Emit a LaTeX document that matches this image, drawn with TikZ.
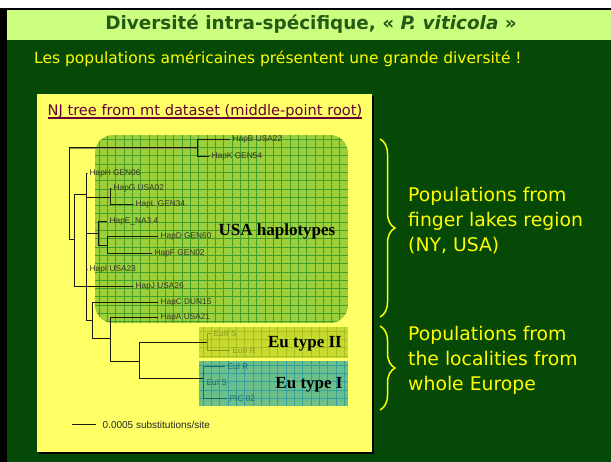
\documentclass[tikz,border=0pt]{standalone}
\usepackage{fontspec}
\setmainfont{Liberation Sans}
\newfontfamily\comic{DejaVu Sans}
\newfontfamily\serifb{Liberation Serif}
\usetikzlibrary{decorations.pathreplacing}
\definecolor{bgdark}{HTML}{064806}
\definecolor{titlebg}{HTML}{CCFF80}
\definecolor{titletxt}{HTML}{245A16}
\definecolor{panel}{HTML}{FFFF66}
\definecolor{maroon}{HTML}{660033}
\definecolor{usag}{HTML}{9CCF3A}
\definecolor{usagrid}{HTML}{3F9F2C}
\definecolor{eutwo}{HTML}{C8DA30}
\definecolor{eutwogrid}{HTML}{A8C020}
\definecolor{euone}{HTML}{6CBF8A}
\definecolor{euonegrid}{HTML}{33A0A0}
\definecolor{yel}{HTML}{FFFF00}
\definecolor{treel}{HTML}{1A1A08}
\definecolor{treesh}{HTML}{8C8C50}
\definecolor{labc}{HTML}{333322}
\definecolor{eutwol}{HTML}{8A9A20}
\definecolor{euonel}{HTML}{1A6A6A}
\tikzset{
  lab/.style={anchor=west, inner sep=2.5pt, font=\fontsize{8.3}{10}\selectfont, text=labc},
  labtwo/.style={lab, text=eutwol},
  labone/.style={lab, text=euonel},
  edge/.style={treel, line width=0.9pt},
  shadowedge/.style={treesh, line width=0.9pt},
  bigl/.style={font=\serifb\bfseries\fontsize{17}{20}\selectfont, text=black, inner sep=0pt},
  brc/.style={yel, line width=1.5pt, decorate, decoration={brace, amplitude=15pt}},
  rtext/.style={anchor=west, align=left, text=yel, font=\comic\fontsize{18.8}{25}\selectfont, inner sep=0pt}
}
\begin{document}
\begin{tikzpicture}[x=1pt,y=-1pt]
\useasboundingbox (0,0) rectangle (611,462);
\fill[white] (0,0) rectangle (611,462);
\fill[black] (0,8) rectangle (611,462);
\fill[titlebg] (7,10.5) rectangle (611,40);
\fill[bgdark] (7,40) rectangle (611,462);
\node[font=\comic\bfseries\fontsize{18.4}{21}\selectfont, text=titletxt, inner sep=0pt] (title) at (311,24) {Diversité intra-spécifique, « \textit{P. viticola} »};
\node[font=\comic\fontsize{15.5}{18}\selectfont, text=yel, anchor=west, inner sep=0pt] (sub) at (34,59) {Les populations américaines présentent une grande diversité !};
% panel
\fill[black] (39,96) rectangle (374,454);
\fill[panel] (37,94) rectangle (372,452);
\node[font=\comic\fontsize{14.6}{17}\selectfont, text=maroon, inner sep=0pt] (ptitle) at (205,111) {NJ tree from mt dataset (middle-point root)};
\draw[maroon, line width=1.1pt] ([yshift=-3pt]ptitle.base west) -- ([yshift=-3pt]ptitle.base east);
% USA box
\begin{scope}
\clip[rounded corners=18pt] (95,135) rectangle (348,323);
\fill[usag] (95,135) rectangle (348,323);
\foreach \x in {99,107.3,...,348} \draw[usagrid, line width=0.5pt] (\x,135) -- (\x,323);
\foreach \y in {139,147.3,...,323} \draw[usagrid, line width=0.5pt] (95,\y) -- (348,\y);
\end{scope}
% Eu boxes
\begin{scope}
\clip (199,327) rectangle (348,358);
\fill[eutwo] (199,327) rectangle (348,358);
\foreach \x in {203,211.3,...,348} \draw[eutwogrid, line width=0.5pt] (\x,327) -- (\x,358);
\foreach \y in {331,339.3,...,358} \draw[eutwogrid, line width=0.5pt] (199,\y) -- (348,\y);
\end{scope}
\begin{scope}
\clip (199,361) rectangle (348,406);
\fill[euone] (199,361) rectangle (348,406);
\foreach \x in {203,211.3,...,348} \draw[euonegrid, line width=0.5pt] (\x,361) -- (\x,406);
\foreach \y in {365,373.3,...,406} \draw[euonegrid, line width=0.5pt] (199,\y) -- (348,\y);
\end{scope}
\node[bigl] (usa) at (277,231) {USA haplotypes};
\node[bigl] (eu2) at (305,344) {Eu type II};
\node[bigl] (eu1) at (309,385) {Eu type I};
% tree internal nodes
\coordinate (R) at (69,193);
\coordinate (BK) at (197,147.5);
\coordinate (N74) at (74,239);
\coordinate (N86) at (86,194);
\coordinate (N110) at (110,197);
\coordinate (N98) at (98,233);
\coordinate (N107) at (107,245);
\coordinate (N92) at (92,320);
\coordinate (N110b) at (110,338);
\coordinate (N139) at (139,361);
\coordinate (EuII) at (207,342);
\coordinate (EuI) at (203,378);
% leaves
\node[lab] (hB) at (230,139) {HapB USA22};
\node[lab] (hK) at (209,156) {HapK GEN54};
\node[lab] (hH) at (87,173) {HapH GEN06};
\node[lab] (hG) at (111,188) {HapG USA02};
\node[lab] (hL) at (133,204) {HapL GEN34};
\node[lab] (hE) at (107,221) {HapE\_NA3.4};
\node[lab] (hD) at (158,236) {HapD GEN60};
\node[lab] (hF) at (152,253) {HapF GEN02};
\node[lab] (hI) at (87,269) {HapI USA23};
\node[lab] (hJ) at (133,286) {HapJ USA26};
\node[lab] (hC) at (158,302) {HapC DUN15};
\node[lab] (hA) at (158,317) {HapA USA21};
\node[labtwo] (e2s) at (211,334) {EuII S};
\node[labtwo] (e2r) at (230,351) {EuII R};
\node[labone] (e1r) at (225,367) {EuI R};
\node[labone] (e1s) at (204,383) {EuI S};
\node[labone] (pic) at (227,399) {PIC 02};
% edges: shadow then line
\begin{scope}[transform canvas={shift={(0.9pt,-0.9pt)}}]
\foreach \a/\b in {R/BK, R/N74, BK/hB.west, BK/hK.west, N74/N86, N74/hJ.west, N86/hH.west, N86/N110, N86/N98, N86/hI.west, N86/N92, N110/hG.west, N110/hL.west, N98/hE.west, N98/N107, N107/hD.west, N107/hF.west, N92/hC.west, N92/N110b, N110b/hA.west, N110b/N139}
  \draw[shadowedge] (\a) |- (\b);
\end{scope}
\foreach \a/\b in {R/BK, R/N74, BK/hB.west, BK/hK.west, N74/N86, N74/hJ.west, N86/hH.west, N86/N110, N86/N98, N86/hI.west, N86/N92, N110/hG.west, N110/hL.west, N98/hE.west, N98/N107, N107/hD.west, N107/hF.west, N92/hC.west, N92/N110b, N110b/hA.west, N110b/N139, N139/EuII, N139/EuI}
  \draw[edge] (\a) |- (\b);
\foreach \b in {e2s, e2r} \draw[eutwol, line width=1pt] (EuII) |- (\b.west);
\foreach \b in {e1r, e1s, pic} \draw[euonel, line width=1pt] (EuI) |- (\b.west);
% scale bar
\coordinate (s1) at (72,424);
\coordinate (s2) at (96,424);
\draw[edge] (s1) -- (s2);
\node[lab, font=\fontsize{10}{12}\selectfont, text=black!85] (scl) at (100,425) {0.0005 substitutions/site};
% braces
\coordinate (b1t) at (380,139);
\coordinate (b1b) at (380,317);
\coordinate (b2t) at (380,326);
\coordinate (b2b) at (380,410);
\draw[brc] (b1t) -- (b1b);
\draw[brc] (b2t) -- (b2b);
\node[rtext] (r1) at (408,221) {Populations from\\finger lakes region\\(NY, USA)};
\node[rtext] (r2) at (408,360) {Populations from\\the localities from\\whole Europe};
\end{tikzpicture}
\end{document}
